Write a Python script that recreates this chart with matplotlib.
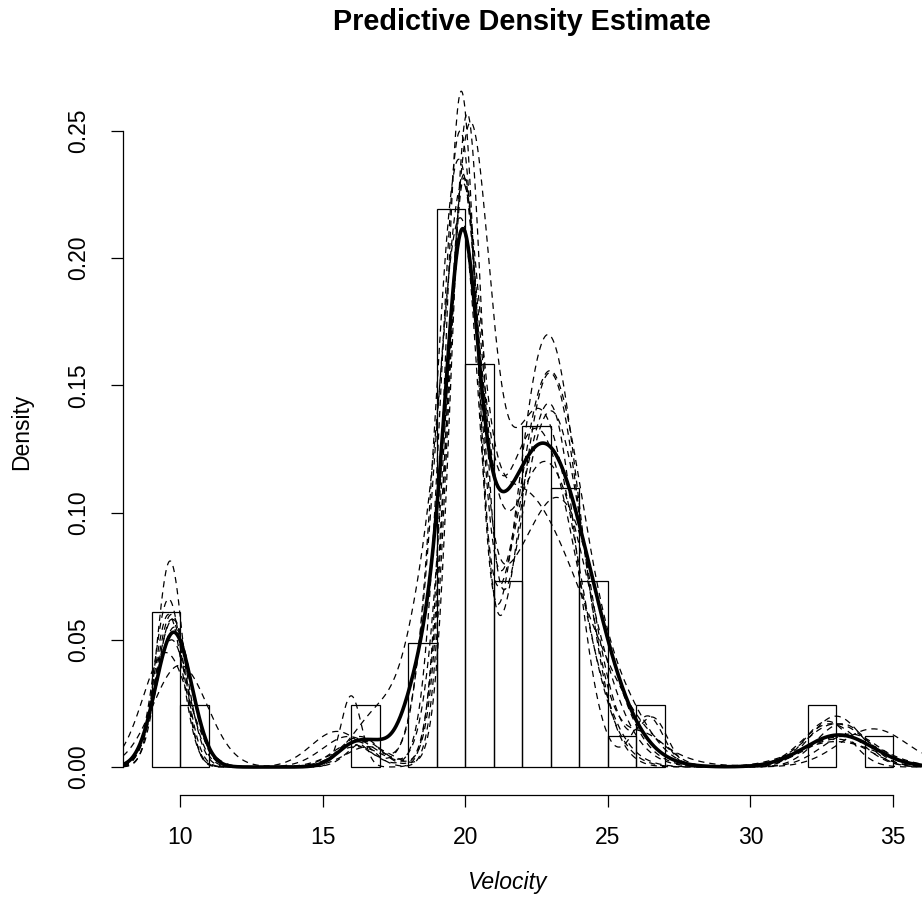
import numpy as np
import matplotlib
matplotlib.use("Agg")
import matplotlib.pyplot as plt

plt.rcParams['font.family'] = ['Liberation Sans', 'DejaVu Sans']

# ---- histogram of velocities (density scale, bin width 1) ----
bin_left = [9, 10, 16, 18, 19, 20, 21, 22, 23, 24, 25, 26, 32, 34]
bin_density = [0.0610, 0.0244, 0.0244, 0.0488, 0.2195, 0.1585, 0.0732,
               0.1341, 0.1098, 0.0732, 0.0122, 0.0244, 0.0244, 0.0122]

# ---- predictive density (thick solid): bumps as (centre, spread, height) ----
predictive = [(9.78, 0.63, 0.053), (16.1, 0.6, 0.0088), (17.0, 0.5, 0.0057),
              (18.1, 0.5, 0.010), (19.9, 0.5, 0.0868), (19.7, 0.9, 0.0986),
              (22.75, 1.65, 0.127), (33.1, 1.2, 0.0126)]

# ---- posterior draws (dashed): bumps as (centre, spread, height) ----
draw_1 = [(9.65, 0.45, 0.081), (16.0, 0.35, 0.028), (19.85, 0.55, 0.262),
          (22.9, 1.1, 0.17), (33.0, 0.9, 0.020)]
draw_2 = [(9.6, 0.5, 0.066), (15.5, 0.9, 0.014), (19.8, 0.65, 0.245),
          (22.95, 1.2, 0.155), (25.5, 1.0, 0.02), (33.0, 1.1, 0.017)]
draw_3 = [(9.75, 0.6, 0.058), (16.3, 0.7, 0.012), (20.1, 0.75, 0.23),
          (22.6, 1.3, 0.14), (32.8, 1.0, 0.017)]
draw_4 = [(10.0, 0.95, 0.04), (16.8, 0.8, 0.012), (18.8, 0.7, 0.04),
          (19.9, 0.6, 0.14), (21.8, 2.3, 0.11), (33.2, 1.3, 0.012)]
draw_5 = [(9.5, 0.8, 0.045), (16.2, 0.9, 0.008), (19.9, 0.55, 0.2),
          (20.8, 1.0, 0.04), (23.3, 1.4, 0.104), (33.0, 1.4, 0.01)]
draw_6 = [(9.7, 0.55, 0.06), (16.2, 0.6, 0.01), (19.95, 0.55, 0.228),
          (22.97, 1.1, 0.155), (26.3, 0.8, 0.012), (33.5, 1.0, 0.013)]
draw_7 = [(9.8, 0.6, 0.055), (15.9, 0.9, 0.012), (19.7, 0.75, 0.22),
          (22.5, 1.4, 0.133), (34.3, 1.2, 0.015)]
draw_8 = [(9.7, 0.5, 0.058), (16.5, 0.6, 0.01), (19.9, 0.6, 0.21),
          (21.6, 0.6, 0.04), (23.0, 0.9, 0.14), (26.4, 0.55, 0.02),
          (32.7, 0.8, 0.018)]
draw_9 = [(9.7, 0.6, 0.05), (16.0, 0.7, 0.009), (19.75, 0.8, 0.2),
          (22.8, 1.5, 0.12), (33.0, 1.1, 0.011)]
draw_10 = [(9.6, 0.5, 0.06), (16.6, 0.8, 0.008), (20.05, 0.55, 0.25),
           (23.0, 1.2, 0.14), (26.6, 0.5, 0.018), (33.2, 0.9, 0.017)]
draws = [draw_1, draw_2, draw_3, draw_4, draw_5, draw_6, draw_7, draw_8,
         draw_9, draw_10]

x_ticks = [10, 15, 20, 25, 30, 35]
y_ticks = [0.00, 0.05, 0.10, 0.15, 0.20, 0.25]
y_ticklabels = ["0.00", "0.05", "0.10", "0.15", "0.20", "0.25"]


def curve(bumps, xs):
    ys = np.zeros_like(xs)
    for c, s, h in bumps:
        ys += h * np.exp(-0.5 * ((xs - c) / s) ** 2)
    return ys


W, H = 922, 897
fig = plt.figure(figsize=(W / 100, H / 100), dpi=100)
ax_left, ax_right = 123, 921.6
ax_top, ax_bottom = 54.7, 795
ax = fig.add_axes([ax_left / W, 1 - ax_bottom / H,
                   (ax_right - ax_left) / W, (ax_bottom - ax_top) / H])
ax.set_xlim(8.0, 36.0)
ax.set_ylim(-0.011, 0.28)

ax.bar(bin_left, bin_density, width=1, align='edge', fill=False,
       edgecolor='black', linewidth=0.9, zorder=1)

xs = np.linspace(8.0, 36.0, 1121)
for d in draws:
    ax.plot(xs, curve(d, xs), color='black', linewidth=0.9,
            linestyle=(0, (5, 4)), zorder=2)
ax.plot(xs, curve(predictive, xs), color='black', linewidth=2.6, zorder=3)

for s in ['top', 'right']:
    ax.spines[s].set_visible(False)
ax.spines['left'].set_bounds(0, 0.25)
ax.spines['bottom'].set_bounds(10, 35)
for s in ['left', 'bottom']:
    ax.spines[s].set_linewidth(0.9)

ax.set_xticks(x_ticks)
ax.set_yticks(y_ticks)
ax.set_yticklabels(y_ticklabels)
ax.tick_params(axis='both', length=8.6, width=0.9, labelsize=16.5,
               colors='black')
ax.tick_params(axis='x', pad=14)
ax.tick_params(axis='y', pad=15)
plt.setp(ax.get_yticklabels(), rotation=90, va='center')

ax.set_title("Predictive Density Estimate", fontsize=20.8, fontweight='bold',
             pad=17.5)
ax.set_ylabel("Density", fontsize=16.5, va='center')
ax.yaxis.set_label_coords((22 - ax_left) / (ax_right - ax_left),
                          (ax_bottom - 432) / (ax_bottom - ax_top))
ax.set_xlabel("Velocity", fontsize=16.5, style='italic', va='center')
ax.xaxis.set_label_coords((507 - ax_left) / (ax_right - ax_left),
                          (ax_bottom - 882) / (ax_bottom - ax_top))

fig.savefig("out.png", dpi=100)
